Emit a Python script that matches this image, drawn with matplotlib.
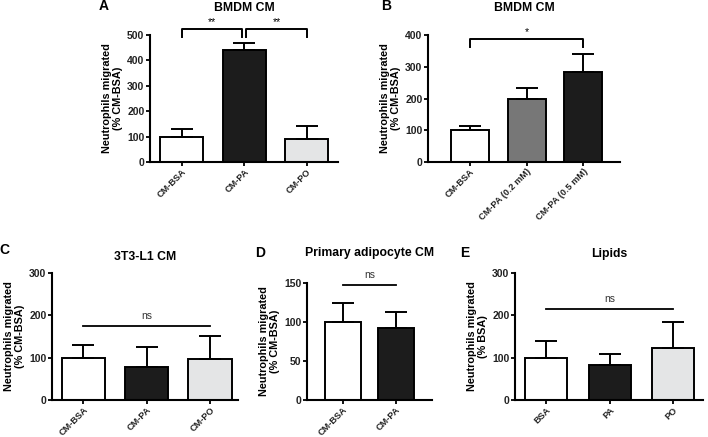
import matplotlib
matplotlib.use("Agg")
import matplotlib.pyplot as plt

plt.rcParams['font.family'] = ['Liberation Sans', 'DejaVu Sans']

# ---- data ----
a_cats = ["CM-BSA", "CM-PA", "CM-PO"]
a_vals = [100, 440, 92]
a_err = [30, 30, 50]

b_cats = ["CM-BSA", "CM-PA (0.2 mM)", "CM-PA (0.5 mM)"]
b_vals = [100, 200, 283]
b_err = [12, 32, 57]

c_cats = ["CM-BSA", "CM-PA", "CM-PO"]
c_vals = [100, 78, 97]
c_err = [30, 47, 55]

d_cats = ["CM-BSA", "CM-PA"]
d_vals = [100, 92]
d_err = [25, 21]

e_cats = ["BSA", "PA", "PO"]
e_vals = [100, 83, 123]
e_err = [40, 25, 62]

WHITE, BLACK, LGRAY, MGRAY = "#ffffff", "#1c1c1c", "#e4e5e6", "#777777"

W, H = 708, 437
fig = plt.figure(figsize=(W / 100, H / 100), dpi=100)


def make_ax(l, r, top, bot):
    return fig.add_axes([l / W, 1 - bot / H, (r - l) / W, (bot - top) / H])


def panel(ax, cats, vals, errs, colors, ylim, yticks, xlim, width, title, ylabel, tpad):
    x = list(range(len(cats)))
    ax.bar(x, vals, width=width, color=colors, edgecolor="black", linewidth=1.4, zorder=2)
    ax.errorbar(x, vals, yerr=[[0] * len(errs), errs], fmt="none", ecolor="black",
                elinewidth=1.4, capsize=8, capthick=1.4, zorder=3)
    ax.set_xlim(*xlim)
    ax.set_ylim(*ylim)
    ax.set_yticks(yticks)
    ax.set_xticks(x)
    ax.set_xticklabels(cats, rotation=45, ha="right", rotation_mode="anchor",
                       fontsize=6.6, fontweight="bold", color="#222222")
    for lab in ax.get_yticklabels():
        lab.set_fontsize(7.5)
        lab.set_fontweight("bold")
        lab.set_color("#222222")
    for s in ["top", "right"]:
        ax.spines[s].set_visible(False)
    for s in ["left", "bottom"]:
        ax.spines[s].set_linewidth(1.5)
    ax.tick_params(axis="y", direction="out", length=3, width=1.3, pad=1)
    ax.tick_params(axis="x", direction="out", length=3, width=1.3, pad=0.8)
    ax.set_title(title, fontsize=8.8, fontweight="bold", pad=tpad)
    ax.set_ylabel(ylabel, fontsize=7.8, fontweight="bold", labelpad=3, linespacing=1.1)


def bracket(ax, x1, x2, y, drop, text):
    ax.plot([x1, x1, x2, x2], [y - drop, y, y, y - drop], color="black", lw=1.4,
            clip_on=False, zorder=4)
    ax.text((x1 + x2) / 2, y + drop * 0.3, text, ha="center", va="bottom", fontsize=7.5,
            clip_on=False)


def hline(ax, x1, x2, y, dy, text):
    ax.plot([x1, x2], [y, y], color="black", lw=1.3, clip_on=False, zorder=4)
    ax.text((x1 + x2) / 2, y + dy, text, ha="center", va="bottom", fontsize=7.5,
            color="#333333")


# A
axA = make_ax(150, 338, 35, 162)
panel(axA, a_cats, a_vals, a_err, [WHITE, BLACK, LGRAY], (0, 500), [0, 100, 200, 300, 400, 500],
      (-0.51, 2.5), 0.69, "BMDM CM", "Neutrophils migrated\n(% CM-BSA)", 17.5)
bracket(axA, 0, 0.97, 522, 30, "**")
bracket(axA, 1.03, 2, 522, 30, "**")

# B
axB = make_ax(428, 620, 35, 162)
panel(axB, b_cats, b_vals, b_err, [WHITE, MGRAY, BLACK], (0, 400), [0, 100, 200, 300, 400],
      (-0.74, 2.65), 0.67, "BMDM CM", "Neutrophils migrated\n(% CM-BSA)", 17.5)
bracket(axB, 0, 2, 387, 25, "*")

# C
axC = make_ax(52, 238, 273, 400)
panel(axC, c_cats, c_vals, c_err, [WHITE, BLACK, LGRAY], (0, 300), [0, 100, 200, 300],
      (-0.49, 2.44), 0.68, "3T3-L1 CM", "Neutrophils migrated\n(% CM-BSA)", 9.4)
hline(axC, 0, 2, 175, 12, "ns")

# D
axD = make_ax(307, 432, 283, 400)
panel(axD, d_cats, d_vals, d_err, [WHITE, BLACK], (0, 150), [0, 50, 100, 150],
      (-0.68, 1.68), 0.68, "Primary adipocyte CM", "Neutrophils migrated\n(% CM-BSA)", 19.4)
hline(axD, 0, 1, 148, 6, "ns")

# E
axE = make_ax(515, 703, 273, 400)
panel(axE, e_cats, e_vals, e_err, [WHITE, BLACK, LGRAY], (0, 300), [0, 100, 200, 300],
      (-0.49, 2.47), 0.66, "Lipids", "Neutrophils migrated\n(% BSA)", 11.5)
hline(axE, 0, 2, 215, 12, "ns")

# panel letters
for lbl, px, py in [("A", 104, 6), ("B", 386, 6), ("C", 4, 250), ("D", 260, 253), ("E", 465, 253)]:
    fig.text(px / W, 1 - py / H, lbl, fontsize=10, fontweight="bold", ha="center", va="center")

fig.savefig("out.png", dpi=100)
